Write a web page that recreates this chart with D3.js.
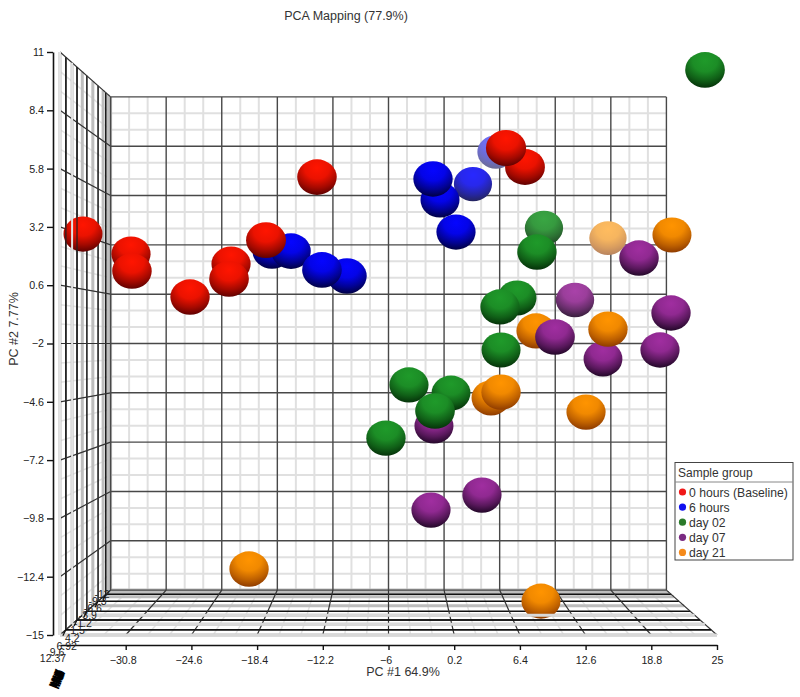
<!DOCTYPE html>
<html><head><meta charset="utf-8">
<script src="https://cdn.jsdelivr.net/npm/d3@7/dist/d3.min.js"></script>
<style>html,body{margin:0;padding:0;background:#fff}svg{display:block}text{font-family:"Liberation Sans",Arial,sans-serif}</style>
</head><body><svg id="c" width="800" height="697"></svg>
<script>
const groupNames = ["0 hours (Baseline)","6 hours","day 02","day 07","day 21"];
const groupColors = ["#ff1500","#0505ff","#1f9a2a","#a02ea0","#ff9400"];
const groupDarks = ["#5a0000","#00003c","#042e08","#1e0624","#8a3800"];
const legendColors = ["#f01818","#1010f0","#2a7a2a","#7a2a82","#f58a1a"];

const redPC1 = [-34.83,-30.30,-30.21,-24.73,-20.86,-21.05,-17.56,-12.75,5.09,6.88];
const redPC2 = [2.88,1.99,1.23,0.07,1.54,0.88,2.61,5.42,6.72,5.87];
const redPC3 = [2,3,5,4,3,6,7,5,9,7];
const bluePC1 = [-16.99,-15.20,-12.28,-9.92,-1.80,-1.14,0.37,1.97,4.14];
const bluePC2 = [2.12,2.12,1.28,1.01,5.34,4.40,2.97,5.11,6.54];
const bluePC3 = [3,5,6,5,4,2,3,-3,-9];
const greenPC1 = [23.87,8.67,8.01,6.13,4.52,4.62,-4.07,-0.10,-1.61,-6.24];
const greenPC2 = [10.20,3.15,2.08,0.03,-0.37,-2.29,-3.85,-4.21,-5.01,-6.22];
const greenPC3 = [6,-2.5,4,1,3,2,3,1,6,4];
const purplePC1 = [11.60,17.64,20.66,9.71,14.24,19.62,-1.71,2.82,-1.99];
const purplePC2 = [-0.06,1.81,-0.64,-1.71,-2.69,-2.29,-5.68,-8.76,-9.43];
const purplePC3 = [-2,5,4,6,1,3,2,3,3];
const orangePC1 = [14.71,20.75,14.71,7.92,12.64,3.67,4.62,8.39,-19.16];
const orangePC2 = [2.70,2.84,-1.36,-1.44,-5.06,-4.43,-4.17,-13.49,-12.06];
const orangePC3 = [-8,2,4,3,3,1,4,2,4];

const xTicks = [-37,-30.8,-24.6,-18.4,-12.2,-6,0.2,6.4,12.6,18.8,25];
const xLabels = [-30.8,-24.6,-18.4,-12.2,-6,0.2,6.4,12.6,18.8,25];
const yTicks = [11,8.4,5.8,3.2,0.6,-2,-4.6,-7.2,-9.8,-12.4,-15];
const depthMajor = [0.10,0.30,0.49,0.72,0.89];
const depthMinor = [0,0.21,0.40,0.61,0.83,0.94,1];
const depthLabels = ["12.37","9.6","6.92","4.2","1.5","-1.2","-3.9","-6.6","-9.3","-12"];
const depthLabelAt = [0,0.07,0.15,0.25,0.35,0.45,0.55,0.65,0.75,0.85];

const svg = d3.select("#c");
const x = d3.scaleLinear().domain([-37,25]).range([60,717]);
const y = d3.scaleLinear().domain([-15,11]).range([635,52]);
const persp = d3.scaleLinear().domain([0,1]).range([1,1/0.846]);
const vx = x(-6), vy = y(-2);
const P = (a,b,t)=>{const s=1/persp(t);return [vx+(x(a)-vx)*s, vy+(y(b)-vy)*s];};
const minorOf = ts => { const o=[]; for(let i=0;i<ts.length-1;i++){const st=(ts[i+1]-ts[i])/3; o.push(ts[i]+st,ts[i]+2*st);} return o; };
const xMinor = minorOf(xTicks), yMinor = minorOf(yTicks.slice().reverse());
const lineG = (g,a,b,col,w)=>g.append("line").attr("x1",a[0]).attr("y1",a[1]).attr("x2",b[0]).attr("y2",b[1]).attr("stroke",col).attr("stroke-width",w);
const MINOR="#e0e0e0", MAJOR="#484848";

const grid = svg.append("g");
yMinor.forEach(v=>lineG(grid,P(-37,v,1),P(25,v,1),MINOR,2));
xMinor.forEach(v=>lineG(grid,P(v,-15,1),P(v,11,1),MINOR,2));
const leftVerts = (g,ts,col,w)=>ts.forEach(t=>lineG(g,P(-37,-15,t),P(-37,11,t),col,w));
const floorHoriz = (g,ts,col,w)=>ts.forEach(t=>lineG(g,P(-37,-15,t),P(25,-15,t),col,w));
yMinor.forEach(v=>lineG(grid,P(-37,v,0),P(-37,v,1),"#e4e4e4",1.5));
xMinor.forEach(v=>lineG(grid,P(v,-15,0),P(v,-15,1),"#e4e4e4",1.5));
leftVerts(grid,depthMinor,"#bdbdbd",3);
floorHoriz(grid,depthMinor,"#bdbdbd",3);
leftVerts(grid,depthMajor,"#111",1.5);
floorHoriz(grid,depthMajor,"#111",1.5);
yTicks.forEach(v=>{lineG(grid,P(-37,v,1),P(25,v,1),MAJOR,1.4);lineG(grid,P(-37,v,0),P(-37,v,1),"#333",1.2);});
xTicks.forEach(v=>{lineG(grid,P(v,-15,1),P(v,11,1),MAJOR,1.4);lineG(grid,P(v,-15,0),P(v,-15,1),"#333",1.2);});

const pts = [];
[[redPC1,redPC2,redPC3],[bluePC1,bluePC2,bluePC3],[greenPC1,greenPC2,greenPC3],[purplePC1,purplePC2,purplePC3],[orangePC1,orangePC2,orangePC3]]
 .forEach((s,g)=>s[0].forEach((v,i)=>pts.push({g,a:v,b:s[1][i],c:s[2][i]})));
pts.sort((p,q)=>p.c-q.c);
const fog = d3.scaleLinear().domain([-9,0]).range([0.42,0]).clamp(true);
const rad = d3.scaleLinear().domain([-9,9]).range([18.6,20.1]);
const defs = svg.append("defs");
pts.forEach((p,i)=>{
  const base = d3.interpolateRgb(groupColors[p.g],"#ffffff")(fog(p.c));
  const dark = d3.interpolateRgb(groupDarks[p.g],"#ffffff")(fog(p.c));
  const gr = defs.append("radialGradient").attr("id","s"+i).attr("cx",.5).attr("cy",.24).attr("r",.78);
  gr.append("stop").attr("offset",0).attr("stop-color",base);
  gr.append("stop").attr("offset",.4).attr("stop-color",d3.interpolateRgb(base,dark)(.12));
  gr.append("stop").attr("offset",.72).attr("stop-color",d3.interpolateRgb(base,dark)(.55));
  gr.append("stop").attr("offset",1).attr("stop-color",dark);
});
svg.append("g").selectAll("ellipse").data(pts).join("ellipse")
  .attr("cx",d=>x(d.a)).attr("cy",d=>y(d.b))
  .attr("rx",d=>rad(d.c)).attr("ry",d=>rad(d.c)*0.9)
  .attr("fill",(d,i)=>`url(#s${i})`);

const over = svg.append("g");
leftVerts(over,depthMinor.filter(t=>t<0.36),"#e2e2e2",2);
leftVerts(over,depthMajor.filter(t=>t<0.36),"#222",1.2);
floorHoriz(over,depthMinor.filter(t=>t<0.41),"#d8d8d8",3);
floorHoriz(over,depthMajor.filter(t=>t<0.36),"#111",1.5);

const axY = svg.append("g").attr("transform","translate(53,0)")
  .call(d3.axisLeft(y).tickValues(yTicks).tickSize(6).tickSizeOuter(0).tickFormat(d3.format("")));
const axX = svg.append("g").attr("transform","translate(0,645)")
  .call(d3.axisBottom(x).tickValues(xLabels).tickSize(5).tickSizeOuter(0).tickFormat(d3.format("")));
[axY,axX].forEach(a=>{a.selectAll("path").attr("stroke","#111").attr("stroke-width",1.6);
  a.selectAll("line").attr("stroke","#111").attr("stroke-width",1.4);
  a.selectAll("text").attr("fill","#222").attr("font-size",10.7).style("font-family",'"Liberation Sans",Arial,sans-serif');});
axX.selectAll("text").attr("dy","1.05em").attr("dx",d=>d<0?-3:0);

depthLabels.forEach((s,i)=>{const t=depthLabelAt[i],p=P(-37,-15,t);
  svg.append("text").attr("x",p[0]-6+(t<0.1?-1:4)).attr("y",p[1]+27*(1-t*1.1)).attr("font-size",10.5).attr("fill","#222").attr("text-anchor","middle").text(s);
});
depthMajor.forEach(t=>{const p=P(-37,-15,t);lineG(svg,p,[p[0]-3,p[1]+6],"#111",1.2);});

svg.append("g").attr("transform","translate(57,688) rotate(-68) scale(0.22,0.72)")
  .append("text").attr("font-size",13).attr("font-weight","bold").attr("fill","#000").attr("stroke","#000").attr("stroke-width",6).text("PC #3 5.23%");

const T=(xp,yp,s,fs,rot)=>svg.append("text").attr("transform",`translate(${xp},${yp})`+(rot?` rotate(${rot})`:"")).attr("text-anchor","middle").attr("font-size",fs).attr("fill","#333").text(s);
T(346,20,"PCA Mapping (77.9%)",12.5);
T(403,676,"PC #1 64.9%",12.5);
T(18,329,"PC #2 7.77%",12.5,-90);

const lg = svg.append("g");
lg.append("rect").attr("x",675).attr("y",462.5).attr("width",118).attr("height",97.5).attr("fill","#fff").attr("stroke","#444").attr("stroke-width",1);
lg.append("line").attr("x1",675).attr("x2",793).attr("y1",482).attr("y2",482).attr("stroke","#888");
lg.append("text").attr("x",678).attr("y",477).attr("font-size",12).attr("fill","#333").text("Sample group");
groupNames.forEach((n,i)=>{const yy=492+i*15.1;
  lg.append("circle").attr("cx",682.5).attr("cy",yy).attr("r",3.6).attr("fill",legendColors[i]);
  lg.append("text").attr("x",689).attr("y",yy+4.5).attr("font-size",12.2).attr("fill","#333").text(n);
});
</script></body></html>
